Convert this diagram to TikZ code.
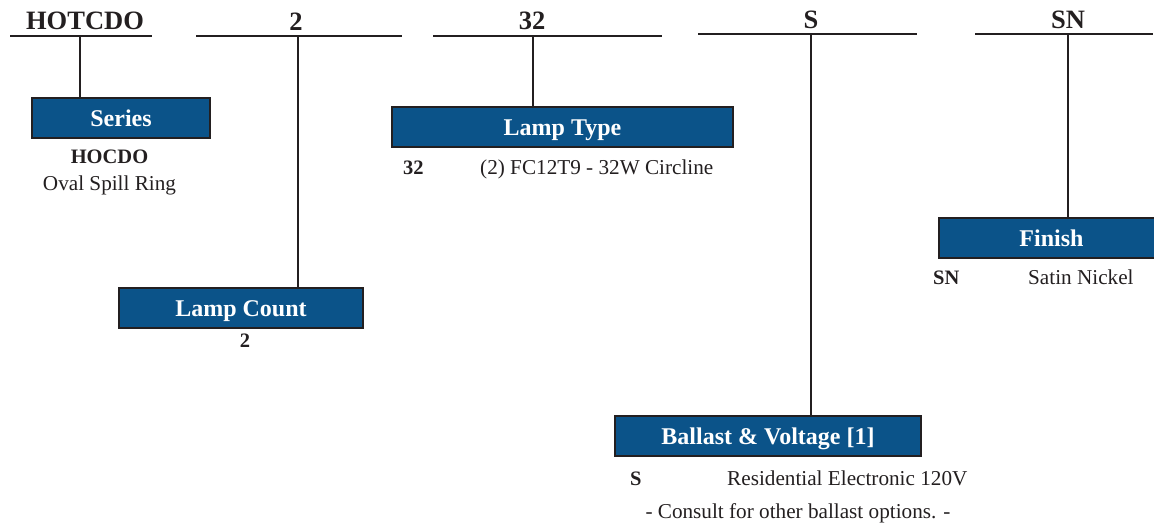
\documentclass[tikz,border=0pt]{standalone}
\usepackage{fontspec}
\setmainfont{Liberation Serif}
\definecolor{boxblue}{RGB}{11,83,137}
\definecolor{ink}{RGB}{35,31,32}
\begin{document}
\begin{tikzpicture}[x=1pt,y=-1pt,
  codelabel/.style={font=\fontsize{26.5}{26}\selectfont\bfseries, text=ink, anchor=base, inner sep=0pt},
  rule/.style={draw=ink, line width=1.8pt},
  catbox/.style={draw=ink, line width=2pt, fill=boxblue, text=white,
    font=\fontsize{24}{24}\selectfont\bfseries, inner sep=0pt,
    text height=18pt, text depth=2pt, minimum height=40pt, anchor=north west},
  code/.style={font=\fontsize{20.5}{20}\selectfont\bfseries, text=ink, inner sep=0pt},
  desc/.style={font=\fontsize{21.2}{21}\selectfont, text=ink, inner sep=0pt},
]
\useasboundingbox (0,0) rectangle (1154,531);
\clip (0,0) rectangle (1154,531);

% top code labels
\node[codelabel] (c1) at (85,29) {HOTCDO};
\node[codelabel] (c2) at (296,30) {2};
\node[codelabel] (c3) at (532,29) {32};
\node[codelabel] (c4) at (811,28) {S};
\node[codelabel] (c5) at (1068,28) {SN};

% rule ends and junctions
\coordinate (l1a) at (10,36);  \coordinate (l1b) at (152,36);  \coordinate (j1) at (80,36);
\coordinate (l2a) at (196,36); \coordinate (l2b) at (402,36);  \coordinate (j2) at (298,36);
\coordinate (l3a) at (433,36); \coordinate (l3b) at (662,36);  \coordinate (j3) at (533,36);
\coordinate (l4a) at (698,34); \coordinate (l4b) at (917,34);  \coordinate (j4) at (811,34);
\coordinate (l5a) at (975,34); \coordinate (l5b) at (1153,34); \coordinate (j5) at (1068,34);

% category boxes
\node[catbox, minimum width=178pt] (series) at (31,97) {Series};
\node[catbox, minimum width=341pt] (lamptype) at (391,106) {Lamp Type};
\node[catbox, minimum width=244pt] (lampcount) at (118,287) {Lamp Count};
\node[catbox, minimum width=225pt] (finish) at (938,217) {Finish};
\node[catbox, minimum width=306pt] (ballast) at (614,415) {Ballast \& Voltage [1]};

% rules
\draw[rule] (l1a) -- (l1b);
\draw[rule] (l2a) -- (l2b);
\draw[rule] (l3a) -- (l3b);
\draw[rule] (l4a) -- (l4b);
\draw[rule] (l5a) -- (l5b);

% connectors
\draw[rule] (j1) -- (j1 |- series.north);
\draw[rule] (j2) -- (j2 |- lampcount.north);
\draw[rule] (j3) -- (j3 |- lamptype.north);
\draw[rule] (j4) -- (j4 |- ballast.north);
\draw[rule] (j5) -- (j5 |- finish.north);

% option texts
\node[code, anchor=base] (s1) at (109.5,163) {HOCDO};
\node[desc, anchor=base] (s1d) at (109.5,190) {Oval Spill Ring};

\node[code, anchor=base west] (t1) at (403,174) {32};
\node[desc, anchor=base west] (t1d) at (480,174) {(2) FC12T9 - 32W Circline};

\node[code, anchor=base] (n1) at (245,347) {2};

\node[code, anchor=base west] (f1) at (933,284) {SN};
\node[desc, anchor=base west] (f1d) at (1028,284) {Satin Nickel};

\node[code, anchor=base west] (b1) at (630,485) {S};
\node[desc, anchor=base west] (b1d) at (727,485) {Residential Electronic 120V};
\node[desc, anchor=base] (bnote) at (798,518) {- Consult for other ballast options. -};
\end{tikzpicture}
\end{document}
